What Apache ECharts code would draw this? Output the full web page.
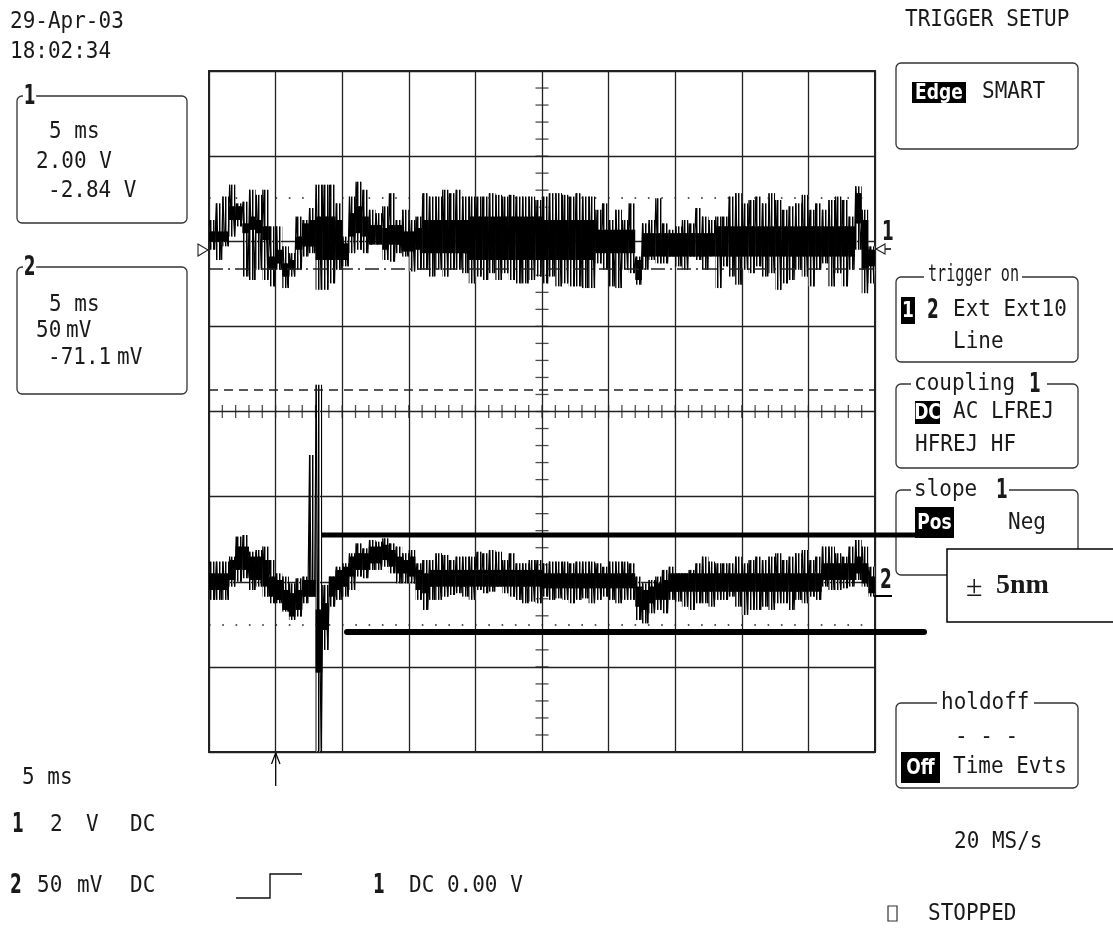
<!DOCTYPE html>
<html><head><meta charset="utf-8">
<script src="https://cdn.jsdelivr.net/npm/echarts/dist/echarts.min.js"></script>
<style>html,body{margin:0;padding:0;background:#fff}#c{width:1113px;height:931px}</style>
</head><body><div id="c"></div><script>
// ---- data ----
// sweep: 5 ms/div, 10 div, trigger at 0 ms; trace read in 0.5 ms columns
const sweepStart = -5, sampleStep = 0.5;
// channel 1 (V): spike extremes and solid core of the trace in each column
const ch1Hi = [0.69,1.08,1.24,1.52,1.08,1.12,1.40,1.28,1.40,0.54, 0.54,0.07,-0.09,0.77,0.69,0.97,1.52,1.52,1.52,1.08,
  0.30,1.24,1.59,1.40,0.93,0.85,1.01,1.32,0.69,0.93, 0.69,0.77,1.32,1.24,1.24,1.40,1.32,1.40,1.24,1.24,
  1.24,1.24,1.32,1.28,1.24,1.28,1.24,1.24,1.24,1.16, 1.24,1.32,1.32,1.28,1.24,1.32,1.24,1.24,0.93,1.08,
  0.69,0.93,0.69,1.08,-0.17,0.61,0.69,1.20,0.61,0.46, 0.54,0.69,0.61,0.97,0.77,0.69,0.77,0.77,1.24,1.32,
  1.08,1.16,1.24,1.08,1.32,1.16,0.93,1.01,1.08,1.28, 0.93,1.08,0.93,1.16,1.24,1.16,0.77,1.48,0.93,0.07];
const ch1Lo = [-0.01,-0.25,0.07,0.30,0.54,-0.64,-0.72,-0.48,-0.72,-0.87, -0.48,-0.91,-0.64,-0.48,-0.17,-0.09,-0.95,-0.95,-0.80,-0.48,
  -0.40,-0.09,-0.01,-0.09,0.30,0.22,-0.25,-0.29,-0.09,-0.17, -0.52,-0.48,-0.48,-0.64,-0.48,-0.64,-0.48,-0.48,-0.56,-0.80,
  -0.64,-0.72,-0.56,-0.72,-0.56,-0.72,-0.80,-0.80,-0.72,-0.64, -0.80,-0.64,-0.87,-0.80,-0.87,-0.87,-0.91,-0.91,-0.33,-0.48,
  -0.87,-0.91,-0.48,-0.56,-0.83,-0.48,-0.25,-0.33,-0.33,-0.17, -0.40,-0.48,-0.17,-0.25,-0.48,-0.09,-0.91,-0.40,-0.64,-0.83,
  -0.48,-0.56,-0.40,-0.64,-0.56,-0.95,-0.80,-0.72,-0.48,-0.64, -0.87,-0.48,-0.33,-0.87,-0.56,-0.87,-0.48,-0.01,-1.03,-0.80];
const ch1CoreHi = [0.42,0.42,0.42,1.01,1.01,0.61,0.77,0.69,0.54,-0.17, -0.01,-0.33,-0.25,0.30,0.61,0.69,0.77,0.77,0.77,0.69,
  0.14,0.85,1.01,0.77,0.57,0.57,0.50,0.57,0.57,0.42, 0.42,0.50,0.69,0.69,0.69,0.69,0.69,0.69,0.69,0.77,
  0.77,0.77,0.77,0.77,0.77,0.77,0.77,0.77,0.77,0.77, 0.69,0.69,0.69,0.69,0.69,0.69,0.69,0.69,0.46,0.46,
  0.46,0.46,0.46,0.46,-0.25,0.38,0.38,0.38,0.38,0.38, 0.38,0.38,0.38,0.38,0.38,0.38,0.54,0.54,0.54,0.54,
  0.54,0.54,0.54,0.54,0.54,0.54,0.54,0.54,0.54,0.54, 0.54,0.54,0.54,0.54,0.54,0.54,0.54,1.32,0.69,-0.01];
const ch1CoreLo = [0.18,0.18,0.18,0.69,0.69,0.38,0.46,0.38,0.22,-0.48, -0.33,-0.64,-0.48,-0.01,0.07,0.07,-0.25,-0.25,-0.25,-0.25,
  -0.25,0.30,0.38,0.30,0.11,0.11,-0.01,0.11,0.11,-0.05, -0.05,-0.01,-0.09,-0.09,-0.09,-0.09,-0.09,-0.09,-0.09,-0.25,
  -0.25,-0.25,-0.25,-0.25,-0.25,-0.25,-0.25,-0.25,-0.25,-0.25, -0.25,-0.25,-0.25,-0.25,-0.25,-0.25,-0.25,-0.25,-0.09,-0.09,
  -0.09,-0.09,-0.09,-0.09,-0.72,-0.17,-0.17,-0.17,-0.17,-0.17, -0.17,-0.17,-0.17,-0.17,-0.17,-0.17,-0.17,-0.17,-0.17,-0.17,
  -0.17,-0.17,-0.17,-0.17,-0.17,-0.17,-0.17,-0.17,-0.17,-0.17, -0.17,-0.17,-0.17,-0.17,-0.17,-0.17,-0.17,0.61,-0.48,-0.40];
// channel 2 (mV)
const ch2Hi = [20.2,20.2,20.2,23.1,34.9,35.8,26.0,27.0,29.0,21.1, 13.3,11.4,7.4,10.4,11.4,82.8,124.0,6.5,11.4,17.2,
  19.2,25.1,30.9,28.0,32.9,31.9,33.9,30.9,29.0,25.1, 27.0,19.2,21.1,21.1,25.1,24.1,21.1,23.1,23.1,23.1,
  26.0,25.1,27.0,26.0,21.1,25.1,19.2,19.2,21.1,21.1, 19.2,20.2,20.2,20.2,19.2,20.2,20.2,20.2,19.2,17.2,
  20.2,20.2,20.2,19.2,11.4,7.4,9.4,11.4,15.3,17.2, 13.3,13.3,15.3,19.2,23.1,20.2,19.2,19.2,19.2,23.1,
  19.2,21.1,23.1,21.1,23.1,25.1,21.1,23.1,25.1,27.0, 21.1,23.1,29.0,29.0,25.1,23.1,29.0,32.9,29.0,17.2];
const ch2Lo = [-2.3,-2.3,-2.3,5.5,8.4,10.4,3.5,5.5,-0.4,-4.3, -4.3,-9.2,-14.1,-12.1,-4.3,-0.4,-95,-31.7,-6.3,-2.3,
  -0.4,3.5,11.4,10.4,15.3,15.3,17.2,13.3,7.4,7.4, 7.4,-2.3,-8.2,-2.3,-2.3,-0.4,0.6,1.6,-0.4,-2.3,
  3.5,1.6,2.5,5.5,1.6,-0.4,-2.3,-4.3,-3.3,-4.3, -0.4,-2.3,-1.4,-2.3,-4.3,-2.3,-1.4,-4.3,-2.3,-0.4,
  -2.3,-4.3,-2.3,-2.3,-14.1,-16.1,-10.2,-8.2,-10.2,-2.3, -3.3,-6.3,-8.2,-4.3,-4.3,-6.3,-2.3,-2.3,-0.4,-6.3,
  -11.2,-8.2,-8.2,-6.3,-8.2,-4.3,-4.3,-8.2,-2.3,-4.3, -0.4,-2.3,5.5,3.5,3.5,4.5,5.5,9.4,5.5,-0.4];
const ch2CoreHi = [13.3,13.3,13.3,21.1,29.0,29.0,23.1,23.1,21.1,11.4, 9.4,3.5,1.6,3.5,9.4,9.4,-8.0,-4.3,11.4,15.3,
  17.2,23.1,25.1,25.1,29.0,29.0,30.0,27.0,23.1,21.1, 23.1,15.3,13.3,15.3,15.3,15.3,15.3,15.3,15.3,15.3,
  15.3,15.3,15.3,15.3,15.3,15.3,15.3,15.3,15.3,15.3, 13.3,13.3,13.3,13.3,13.3,13.3,13.3,13.3,13.3,13.3,
  13.3,13.3,13.3,13.3,5.5,3.5,5.5,7.4,9.4,13.3, 13.3,13.3,13.3,13.3,13.3,13.3,13.3,13.3,13.3,13.3,
  13.3,13.3,13.3,13.3,13.3,13.3,13.3,13.3,13.3,13.3, 13.3,13.3,19.2,19.2,19.2,19.2,19.2,23.1,19.2,11.4];
const ch2CoreLo = [3.5,3.5,3.5,9.4,15.3,15.3,9.4,9.4,5.5,-0.4, -2.3,-8.2,-12.1,-8.2,-0.4,-0.4,-45.0,-20.0,-0.4,3.5,
  5.5,11.4,15.3,15.3,19.2,19.2,21.1,17.2,13.3,13.3, 11.4,3.5,1.6,5.5,5.5,5.5,5.5,5.5,5.5,5.5,
  5.5,5.5,5.5,5.5,5.5,5.5,5.5,5.5,5.5,5.5, 4.5,4.5,4.5,4.5,4.5,4.5,4.5,4.5,4.5,4.5,
  4.5,4.5,4.5,4.5,-6.3,-8.2,-4.3,-2.3,-2.3,2.5, 2.5,2.5,2.5,2.5,2.5,2.5,2.5,2.5,2.5,2.5,
  2.5,2.5,2.5,2.5,2.5,2.5,2.5,2.5,2.5,2.5, 2.5,2.5,9.4,9.4,9.4,9.4,9.4,13.3,7.4,1.6];
// channel settings (volts/div and ground-marker position in divisions from screen centre)
const ch1Scale = 2, ch1Pos = 1.905;
const ch2Scale = 50, ch2Pos = -2.167;
// cursor / level lines
const ch1Cursors = [1.21];        // V, dotted
const ch1CursorDashDot = [-0.46]; // V
const ch2Cursors = [-17.0];       // mV, dotted
const trigLevelDiv = 0.254;       // dashed line (div)

// ---- drawing helpers ----
const stripe = document.createElement('canvas');
stripe.width = 3; stripe.height = 4;
(function () { const c = stripe.getContext('2d'); c.fillStyle = '#000'; c.fillRect(0, 0, 1, 4); c.fillStyle = '#888'; c.fillRect(1, 0, 1, 4); })();

function spikes(hi, lo, cHi, cLo, scale, pos) {
  const pts = [];
  for (let i = 0; i < hi.length; i++) {
    const t = sweepStart + sampleStep * i;
    pts.push([t + sampleStep * 0.1, pos + hi[i] / scale]);
    pts.push([t + sampleStep * 0.35, pos + cLo[i] / scale]);
    pts.push([t + sampleStep * 0.6, pos + cHi[i] / scale]);
    pts.push([t + sampleStep * 0.85, pos + lo[i] / scale]);
  }
  return pts;
}
function clampDiv(v) { return Math.max(-4, Math.min(4, v)); }
function columnSeries(hi, lo, cHi, cLo, scale, pos) {
  const data = hi.map((h, i) => [sweepStart + sampleStep * i, pos + h / scale, pos + lo[i] / scale,
    pos + cHi[i] / scale, pos + cLo[i] / scale]);
  return {type: 'custom', silent: true, z: 3, data: data, encode: {x: 0, y: [1, 2]},
    renderItem: function (params, api) {
      const t = api.value(0);
      const a = api.coord([t, clampDiv(api.value(1))]), b = api.coord([t + sampleStep, clampDiv(api.value(2))]);
      const c = api.coord([t, api.value(3)]), d = api.coord([t + sampleStep, api.value(4)]);
      return {type: 'group', children: [
        {type: 'rect', shape: {x: a[0], y: a[1], width: b[0] - a[0], height: b[1] - a[1]}, style: {fill: {image: stripe, repeat: 'repeat'}}},
        {type: 'rect', shape: {x: c[0], y: c[1], width: d[0] - c[0], height: Math.max(2, d[1] - c[1])}, style: {fill: '#000'}}
      ]};
    }};
}
const hTicks = [], vTicks = [];
for (let k = 0; k <= 50; k++) hTicks.push([sweepStart + k, 0]);
for (let k = 0; k <= 40; k++) vTicks.push([20, -4 + k * 0.2]);

const INK = '#1a1a1a';
const F = '21px "DejaVu Sans Mono", monospace';
const FI = 'bold 19px "DejaVu Sans Condensed", "DejaVu Sans"';
const FD = 'bold 26px "DejaVu Sans Condensed", "DejaVu Sans"';
function txt(x, y, s, o) {
  o = o || {};
  const st = {text: s, x: 0, y: 0, font: o.font || F, fill: o.fill || INK,
    textAlign: o.align || 'left', textVerticalAlign: 'middle'};
  if (o.bg) { st.backgroundColor = o.bg; st.padding = o.pad || [0, 3]; }
  return {type: 'text', x: x, y: y, scaleY: o.sy || 1.1, scaleX: o.sx || 1, z: o.z || 60, style: st};
}
function box(x, y, w, h, z) {
  return {type: 'rect', z: z || 50, shape: {x: x, y: y, width: w, height: h, r: 5},
    style: {fill: 'rgba(0,0,0,0)', stroke: '#333', lineWidth: 1.3}};
}
function inv(x, y, w, h, s) {
  return [
    {type: 'rect', z: 61, shape: {x: x, y: y, width: w, height: h}, style: {fill: '#000'}},
    txt(x + w / 2, y + h / 2 + 1, s, {font: FI, fill: '#fff', align: 'center', z: 62, sy: 1.15})
  ];
}
function digit(x, y, s, bg) { return txt(x, y, s, {font: FD, sx: 0.72, sy: 1.05, z: 63, bg: bg ? '#fff' : null, pad: [0, 1]}); }
function line(x1, y1, x2, y2, w, z, cap) {
  return {type: 'line', z: z || 70, shape: {x1: x1, y1: y1, x2: x2, y2: y2},
    style: {stroke: '#000', lineWidth: w || 1.3, lineCap: cap || 'butt'}};
}
function whiteGap(x, y, w) { return {type: 'rect', z: 55, shape: {x: x, y: y - 3, width: w, height: 6}, style: {fill: '#fff'}}; }

const G = [];
// top-left
G.push(txt(10, 22, '29-Apr-03'), txt(10, 52, '18:02:34'));
// channel boxes
G.push(box(17, 96, 170, 127), digit(23, 97, '1', true), txt(49, 132, '5 ms'), txt(36, 162, '2.00 V'), txt(48, 191, '-2.84 V'));
G.push(box(17, 267, 170, 127), digit(23, 268, '2', true), txt(49, 305, '5 ms'), txt(36, 331, '50'), txt(66, 331, 'mV'),
  txt(48, 358, '-71.1'), txt(117, 358, 'mV'));
// right panel
G.push(txt(905, 20, 'TRIGGER SETUP'));
G.push(box(896, 63, 182, 86)); G.push(...inv(912, 82, 54, 21, 'Edge')); G.push(txt(982, 92, 'SMART'));
G.push(box(896, 277, 182, 85), whiteGap(924, 277, 98), txt(928, 275, 'trigger on', {sx: 0.72}));
G.push(...inv(901, 297, 14, 27, '1')); G.push(digit(927, 311, '2'), txt(953, 310, 'Ext Ext10'), txt(953, 342, 'Line'));
G.push(box(896, 384, 182, 84), whiteGap(911, 384, 136), txt(914, 384, 'coupling'), digit(1029, 385, '1'));
G.push(...inv(915, 401, 25, 23, 'DC')); G.push(txt(953, 412, 'AC LFREJ'), txt(915, 445, 'HFREJ HF'));
G.push(box(896, 490, 182, 85), whiteGap(911, 490, 98), txt(914, 490, 'slope'), digit(996, 491, '1'));
G.push(...inv(915, 507, 39, 31, 'Pos')); G.push(txt(1008, 523, 'Neg'));
G.push(box(896, 703, 182, 85), whiteGap(937, 703, 97), txt(941, 703, 'holdoff'), txt(955, 737, '- - -'));
G.push(...inv(901, 752, 39, 31, 'Off')); G.push(txt(953, 767, 'Time Evts'));
G.push(txt(954, 842, '20 MS/s'));
G.push({type: 'rect', z: 60, shape: {x: 888, y: 906, width: 9, height: 15}, style: {fill: '#fff', stroke: '#333', lineWidth: 1.2}});
G.push(txt(928, 914, 'STOPPED'));
// bottom-left
G.push(txt(22, 778, '5 ms'));
G.push(digit(12, 825, '1'), txt(50, 825, '2'), txt(86, 825, 'V'), txt(130, 825, 'DC'));
G.push(digit(10, 886, '2'), txt(37, 886, '50'), txt(77, 886, 'mV'), txt(130, 886, 'DC'));
G.push({type: 'polyline', z: 60, shape: {points: [[236, 898], [270, 898], [270, 874], [302, 874]]}, style: {stroke: '#111', lineWidth: 1.4, fill: null}});
G.push(digit(373, 886, '1'), txt(409, 886, 'DC 0.00 V'));
// trigger position arrow
G.push(line(275.7, 753, 275.7, 786, 1.3), line(275.7, 753, 271.5, 764, 1.2), line(275.7, 753, 280, 764, 1.2));
// channel markers
G.push({type: 'polygon', z: 70, shape: {points: [[198, 244], [208, 250], [198, 256]]}, style: {fill: '#fff', stroke: '#222', lineWidth: 1.1}});
G.push(line(876, 249, 891, 249, 1.5), {type: 'polygon', z: 71, shape: {points: [[876, 249], [885, 244], [885, 254]]}, style: {fill: '#fff', stroke: '#222', lineWidth: 1.1}});
G.push(digit(882, 233, '1'));
G.push(digit(880, 581, '2'), line(874, 596, 892, 596, 2));
// hand-drawn annotation bars and label
G.push(line(321, 535, 918, 535, 5, 55));
G.push(line(347, 632, 924, 632, 6, 80, 'round'));
G.push({type: 'rect', z: 90, shape: {x: 947, y: 549, width: 180, height: 73}, style: {fill: '#fff', stroke: '#000', lineWidth: 1.5}});
G.push(txt(966, 588, '\u00b1', {font: '30px "Liberation Serif"', sy: 1, z: 91}));
G.push(txt(996, 586, '5nm', {font: 'bold 28px "Liberation Serif"', sy: 1, z: 91}));

const dotted = [1.6, 11.7];
const chart = echarts.init(document.getElementById('c'), null, {renderer: 'canvas'});
chart.setOption({
  animation: false,
  backgroundColor: '#fff',
  grid: {left: 209, top: 71, width: 666, height: 681, show: true, borderColor: '#222', borderWidth: 2, backgroundColor: 'transparent'},
  xAxis: {type: 'value', min: -5, max: 45, interval: 5, axisLine: {show: false}, axisTick: {show: false}, axisLabel: {show: false},
    splitLine: {show: true, lineStyle: {color: '#222', width: 1.3}}},
  yAxis: {type: 'value', min: -4, max: 4, interval: 1, axisLine: {show: false}, axisTick: {show: false}, axisLabel: {show: false},
    splitLine: {show: true, lineStyle: {color: '#222', width: 1.3}}},
  series: [
    {type: 'scatter', data: hTicks, symbol: 'rect', symbolSize: [1.3, 13], itemStyle: {color: '#222'}, silent: true, z: 1},
    {type: 'scatter', data: vTicks, symbol: 'rect', symbolSize: [13, 1.3], itemStyle: {color: '#222'}, silent: true, z: 1},
    columnSeries(ch1Hi, ch1Lo, ch1CoreHi, ch1CoreLo, ch1Scale, ch1Pos),
    columnSeries(ch2Hi, ch2Lo, ch2CoreHi, ch2CoreLo, ch2Scale, ch2Pos),
    {type: 'line', data: spikes(ch1Hi, ch1Lo, ch1CoreHi, ch1CoreLo, ch1Scale, ch1Pos), showSymbol: false, symbol: 'none', silent: true,
      lineStyle: {color: '#000', width: 1.2}, z: 4,
      markLine: {silent: true, symbol: ['none', 'none'], label: {show: false},
        data: ch1Cursors.map(v => ({yAxis: ch1Pos + v / ch1Scale, lineStyle: {type: dotted, color: '#222', width: 1.6}}))
          .concat(ch1CursorDashDot.map(v => ({yAxis: ch1Pos + v / ch1Scale, lineStyle: {type: [14, 5, 2, 5], color: '#222', width: 1.5}})))
          .concat([{yAxis: trigLevelDiv, lineStyle: {type: [9, 6], color: '#222', width: 1.5}}])}},
    {type: 'line', data: spikes(ch2Hi, ch2Lo, ch2CoreHi, ch2CoreLo, ch2Scale, ch2Pos), showSymbol: false, symbol: 'none', silent: true,
      lineStyle: {color: '#000', width: 1.2}, z: 4,
      markLine: {silent: true, symbol: ['none', 'none'], label: {show: false},
        data: ch2Cursors.map(v => ({yAxis: ch2Pos + v / ch2Scale, lineStyle: {type: dotted, color: '#222', width: 1.6}}))}}
  ],
  graphic: {elements: G}
});
</script></body></html>
